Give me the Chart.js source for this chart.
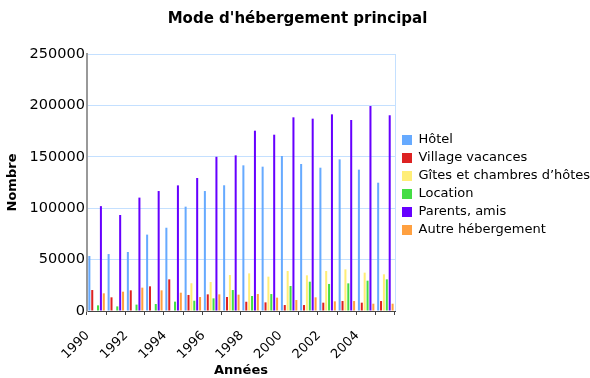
<!DOCTYPE html>
<html>
<head>
<meta charset="utf-8">
<script src="https://cdn.jsdelivr.net/npm/chart.js@4"></script>
<style>
  html, body { margin: 0; padding: 0; background: #fff; }
  #wrap { width: 590px; height: 378px; }
</style>
</head>
<body>
<div id="wrap"><canvas id="bar"></canvas></div>
<script>
// years on the x axis
const years = ['1990', '1991', '1992', '1993', '1994', '1995', '1996', '1997',
    '1998', '1999', '2000', '2001', '2002', '2003', '2004', '2005'];

// values
const hotel = [53500, 55400, 57400, 74300, 81000, 101500, 116700, 122300,
    141700, 140400, 150800, 143000, 139400, 147500, 137500, 124800];
const villageVacances = [20400, 13300, 20100, 24000, 30800, 15600, 16200, 13600,
    9000, 8400, 5800, 5800, 8100, 9700, 8100, 9700];
const gites = [null, null, null, null, null, 27000, 28200, 35000,
    36600, 33400, 38900, 34700, 38900, 40500, 37300, 35700];
const location_ = [5500, 4500, 6200, 6800, 9100, 10000, 12300, 20400,
    14600, 16500, 24300, 28500, 26300, 26900, 29500, 30800];
const parentsAmis = [102000, 93400, 110300, 116700, 122200, 129400, 150000, 151400,
    175400, 171500, 188400, 187100, 191300, 185800, 199400, 190400];
const autre = [17200, 18800, 22700, 20100, 17800, 13600, 16200, 15900,
    16500, 13000, 10700, 13300, 9400, 9700, 7100, 7100];

const yTicks = [0, 50000, 100000, 150000, 200000, 250000];

const font = "'DejaVu Sans', Verdana, sans-serif";
const LEGEND_WIDTH = 195;

// chart.js caps a side legend at a quarter of the width and clips it,
// so widen it after it fits itself, then nudge it up and right a bit
const wideLegend = {
    id: 'wideLegend',
    beforeInit(chart) {
        const legend = chart.legend;
        const fit = legend.fit;
        legend.fit = function () {
            fit.call(this);
            this.width = LEGEND_WIDTH;
        };
    },
    afterLayout(chart) {
        const legend = chart.legend;
        legend.top -= 4;
        legend.bottom -= 4;
        legend.left += 2;
        legend.right += 2;
    }
};

// light blue right border of the plot
const plotBorder = {
    id: 'plotBorder',
    afterDraw(chart) {
        const { ctx, chartArea } = chart;
        ctx.save();
        ctx.strokeStyle = '#c4e0ff';
        ctx.lineWidth = 1;
        ctx.beginPath();
        ctx.moveTo(Math.round(chartArea.right) + 0.5, chartArea.top);
        ctx.lineTo(Math.round(chartArea.right) + 0.5, chartArea.bottom);
        ctx.stroke();
        ctx.restore();
    }
};

const Bar = document.getElementById("bar").getContext("2d");

const myBarChart = new Chart(Bar, {
    type: "bar",
    data: {
        labels: years,
        datasets: [
            { label: 'Hôtel', data: hotel, backgroundColor: '#66aaff' },
            { label: 'Village vacances', data: villageVacances, backgroundColor: '#dd2222' },
            { label: 'Gîtes et chambres d’hôtes', data: gites, backgroundColor: '#ffee77' },
            { label: 'Location', data: location_, backgroundColor: '#44dd44' },
            { label: 'Parents, amis', data: parentsAmis, backgroundColor: '#6600ff' },
            { label: 'Autre hébergement', data: autre, backgroundColor: '#ffa040' },
        ],
    },
    options: {
        responsive: true,
        maintainAspectRatio: false,
        animation: false,
        borderWidth: 0,
        categoryPercentage: 0.9,
        barPercentage: 0.7,
        layout: {
            padding: { left: 5, right: 0, top: 0, bottom: 0 },
        },
        plugins: {
            title: {
                display: true,
                text: "Mode d'hébergement principal",
                color: '#000',
                font: { family: font, size: 15, weight: 'bold' },
                padding: { top: 10, bottom: 26 },
            },
            legend: {
                position: 'right',
                labels: {
                    color: '#000',
                    font: { family: font, size: 13 },
                    boxWidth: 10,
                    boxHeight: 10,
                    padding: 5,
                },
            },
            tooltip: { enabled: false },
        },
        scales: {
            x: {
                // labels claim more room than they use, so fix the axis height
                afterFit: (scale) => {
                    scale.height = 67;
                },
                grid: {
                    display: true,
                    drawOnChartArea: false,
                    drawTicks: true,
                    tickLength: 4,
                    color: '#444',
                },
                border: { color: '#444', width: 1 },
                ticks: {
                    color: '#000',
                    font: { family: font, size: 13 },
                    autoSkip: false,
                    minRotation: 45,
                    maxRotation: 45,
                    labelOffset: -9,
                    padding: 13,
                    callback: function (value, index) {
                        return index % 2 === 0 ? years[index] : '';
                    },
                },
                title: {
                    display: true,
                    text: 'Années',
                    color: '#000',
                    font: { family: font, size: 13, weight: 'bold' },
                    padding: { top: 0, bottom: 0 },
                },
            },
            y: {
                min: yTicks[0],
                max: yTicks[yTicks.length - 1],
                afterBuildTicks: (axis) => {
                    axis.ticks = yTicks.map((v) => ({ value: v }));
                },
                grid: {
                    color: '#c4e0ff',
                    drawTicks: false,
                },
                border: { color: '#999', width: 2 },
                ticks: {
                    color: '#000',
                    font: { family: font, size: 14.5 },
                    padding: 2,
                    callback: (value) => String(value),
                },
                title: {
                    display: true,
                    text: 'Nombre',
                    color: '#000',
                    font: { family: font, size: 13, weight: 'bold' },
                    padding: { top: 0, bottom: 7 },
                },
            },
        },
    },
    plugins: [wideLegend, plotBorder],
});
</script>
</body>
</html>
